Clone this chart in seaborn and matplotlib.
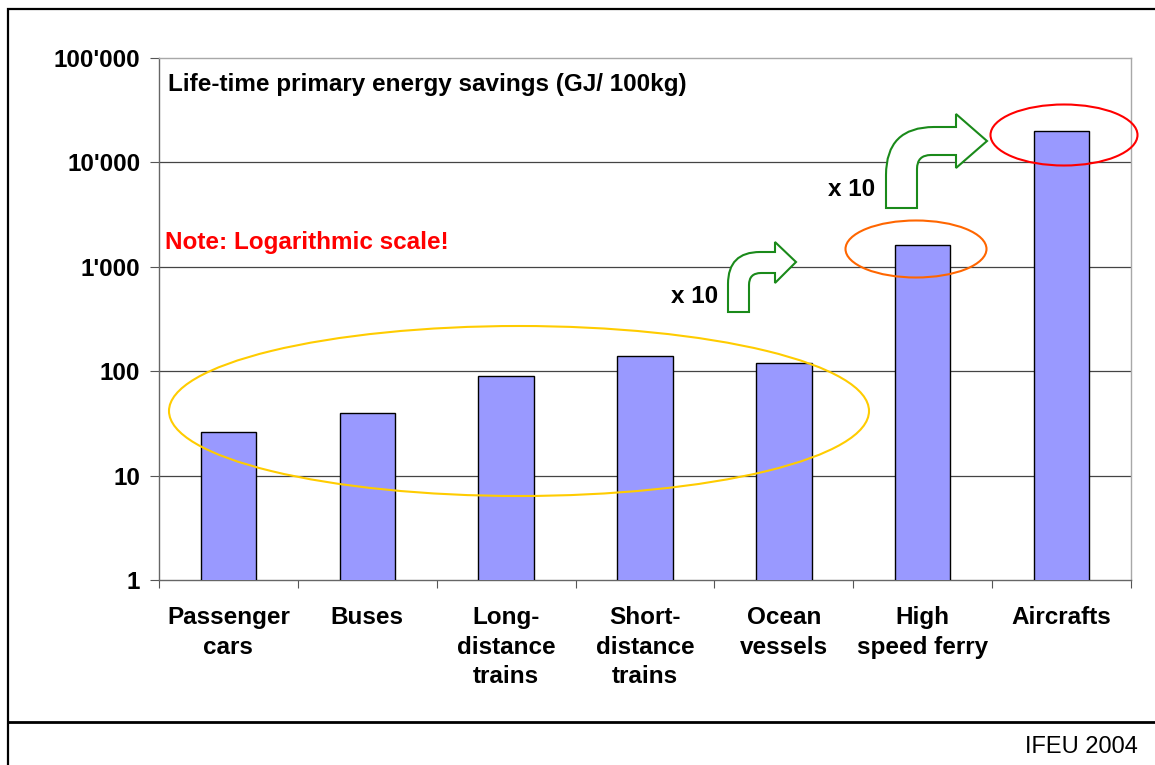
import numpy as np
import pandas as pd
import seaborn as sns
import matplotlib.pyplot as plt
import matplotlib.patches as mpatches
from matplotlib.path import Path
from matplotlib.lines import Line2D
from matplotlib.ticker import FuncFormatter, FixedLocator, NullFormatter

# chart data
categories = ['Passenger\ncars', 'Buses', 'Long-\ndistance\ntrains', 'Short-\ndistance\ntrains',
              'Ocean\nvessels', 'High\nspeed ferry', 'Aircrafts']
savings = [26, 40, 90, 140, 120, 1600, 20000]
y_ticks = [1, 10, 100, 1000, 10000, 100000]

df = pd.DataFrame({'category': categories, 'savings': savings})

W, H = 1155, 765
FS = 17.5
sns.set_theme(style='white')
plt.rcParams['font.family'] = ['Liberation Sans', 'DejaVu Sans']
plt.rcParams['text.color'] = 'black'
plt.rcParams['xtick.color'] = 'black'
plt.rcParams['ytick.color'] = 'black'

fig = plt.figure(figsize=(W / 100, H / 100), dpi=100)
ax = fig.add_axes([159 / W, 1 - 580 / H, (1131 - 159) / W, (580 - 58) / H])

sns.barplot(data=df, x='category', y='savings', color='#9999ff', saturation=1,
            edgecolor='black', linewidth=1.0, width=0.4, ax=ax, zorder=3)
ax.set_yscale('log')
ax.set_ylim(1, 100000)
ax.set_xlim(-0.5, len(categories) - 0.5)
ax.set_xlabel('')
ax.set_ylabel('')

# axes styling
ax.yaxis.set_major_locator(FixedLocator(y_ticks))
ax.yaxis.set_minor_locator(FixedLocator([]))
ax.yaxis.set_major_formatter(FuncFormatter(lambda v, p: f"{int(round(v)):,}".replace(',', "'")))
ax.tick_params(axis='y', which='major', length=6.5, width=0.8, color='#555555', direction='out',
               left=True, labelsize=FS, labelcolor='black', pad=7)
for lab in ax.get_yticklabels():
    lab.set_fontweight('bold')

ax.xaxis.set_minor_locator(FixedLocator(np.arange(-0.5, len(categories), 1.0)))
ax.xaxis.set_minor_formatter(NullFormatter())
ax.tick_params(axis='x', which='major', length=0, labelsize=FS, labelcolor='black', pad=19)
ax.tick_params(axis='x', which='minor', length=6, width=0.8, color='#555555', direction='out', bottom=True)
for lab in ax.get_xticklabels():
    lab.set_fontweight('bold')
    lab.set_linespacing(1.35)
    lab.set_verticalalignment('top')

for v in y_ticks[1:-1]:
    ax.axhline(v, color='#444444', lw=0.9, zorder=1)
for side in ['left', 'bottom']:
    ax.spines[side].set_color('#666666')
    ax.spines[side].set_linewidth(1.0)
for side in ['top', 'right']:
    ax.spines[side].set_color('#a8a8a8')
    ax.spines[side].set_linewidth(1.0)


def fx(x):
    return x / W


def fy(y):
    return 1 - y / H


# annotation texts
fig.text(fx(168), fy(85), 'Life-time primary energy savings (GJ/ 100kg)', fontsize=FS,
         fontweight='bold', va='center', ha='left')
fig.text(fx(165), fy(242), 'Note: Logarithmic scale!', fontsize=FS, fontweight='bold',
         color='#ff0000', va='center', ha='left')
fig.text(fx(671), fy(297), 'x 10', fontsize=FS, fontweight='bold', va='center', ha='left')
fig.text(fx(828), fy(190), 'x 10', fontsize=FS, fontweight='bold', va='center', ha='left')
fig.text(fx(1138), fy(747), 'IFEU 2004', fontsize=17, va='center', ha='right')

# ellipses
for (cx, cy, ew, eh, col) in [(519, 411, 700, 170, '#ffcc00'),
                              (916, 249, 141, 57, '#ff6600'),
                              (1064, 135, 147, 61, '#ff0000')]:
    fig.add_artist(mpatches.Ellipse((fx(cx), fy(cy)), ew / W, eh / H, fill=False,
                                    edgecolor=col, lw=1.5, transform=fig.transFigure, zorder=5))


# bent green arrows
def bent_arrow(x0, x1, yb, ytop, yband, xh, yht, yhb, xt, yt, r_out, r_in):
    pts = [(x0, yb), (x0, ytop + r_out), (x0, ytop), (x0 + r_out, ytop), (xh, ytop),
           (xh, yht), (xt, yt), (xh, yhb), (xh, yband), (x1 + r_in, yband),
           (x1, yband), (x1, yband + r_in), (x1, yb), (x0, yb)]
    codes = [Path.MOVETO, Path.LINETO, Path.CURVE3, Path.CURVE3, Path.LINETO,
             Path.LINETO, Path.LINETO, Path.LINETO, Path.LINETO, Path.LINETO,
             Path.CURVE3, Path.CURVE3, Path.LINETO, Path.CLOSEPOLY]
    verts = [(fx(a), fy(b)) for a, b in pts]
    fig.add_artist(mpatches.PathPatch(Path(verts, codes), facecolor='white', edgecolor='#1a8a1a',
                                      lw=1.5, transform=fig.transFigure, zorder=5))


bent_arrow(728, 749, 312, 252, 273, 775, 242, 283, 796, 262, 32, 12)
bent_arrow(886, 917, 208, 127, 155, 956, 114, 168, 987, 141, 48, 14)

# outer frame and footer line
fig.add_artist(mpatches.Rectangle((fx(8), -0.01), 1.0, fy(9) + 0.01, fill=False, edgecolor='black',
                                  lw=1.6, transform=fig.transFigure))
fig.add_artist(Line2D([fx(8), 1.0], [fy(722), fy(722)], color='black', lw=2.0, transform=fig.transFigure))

fig.savefig('out.png', dpi=100)
